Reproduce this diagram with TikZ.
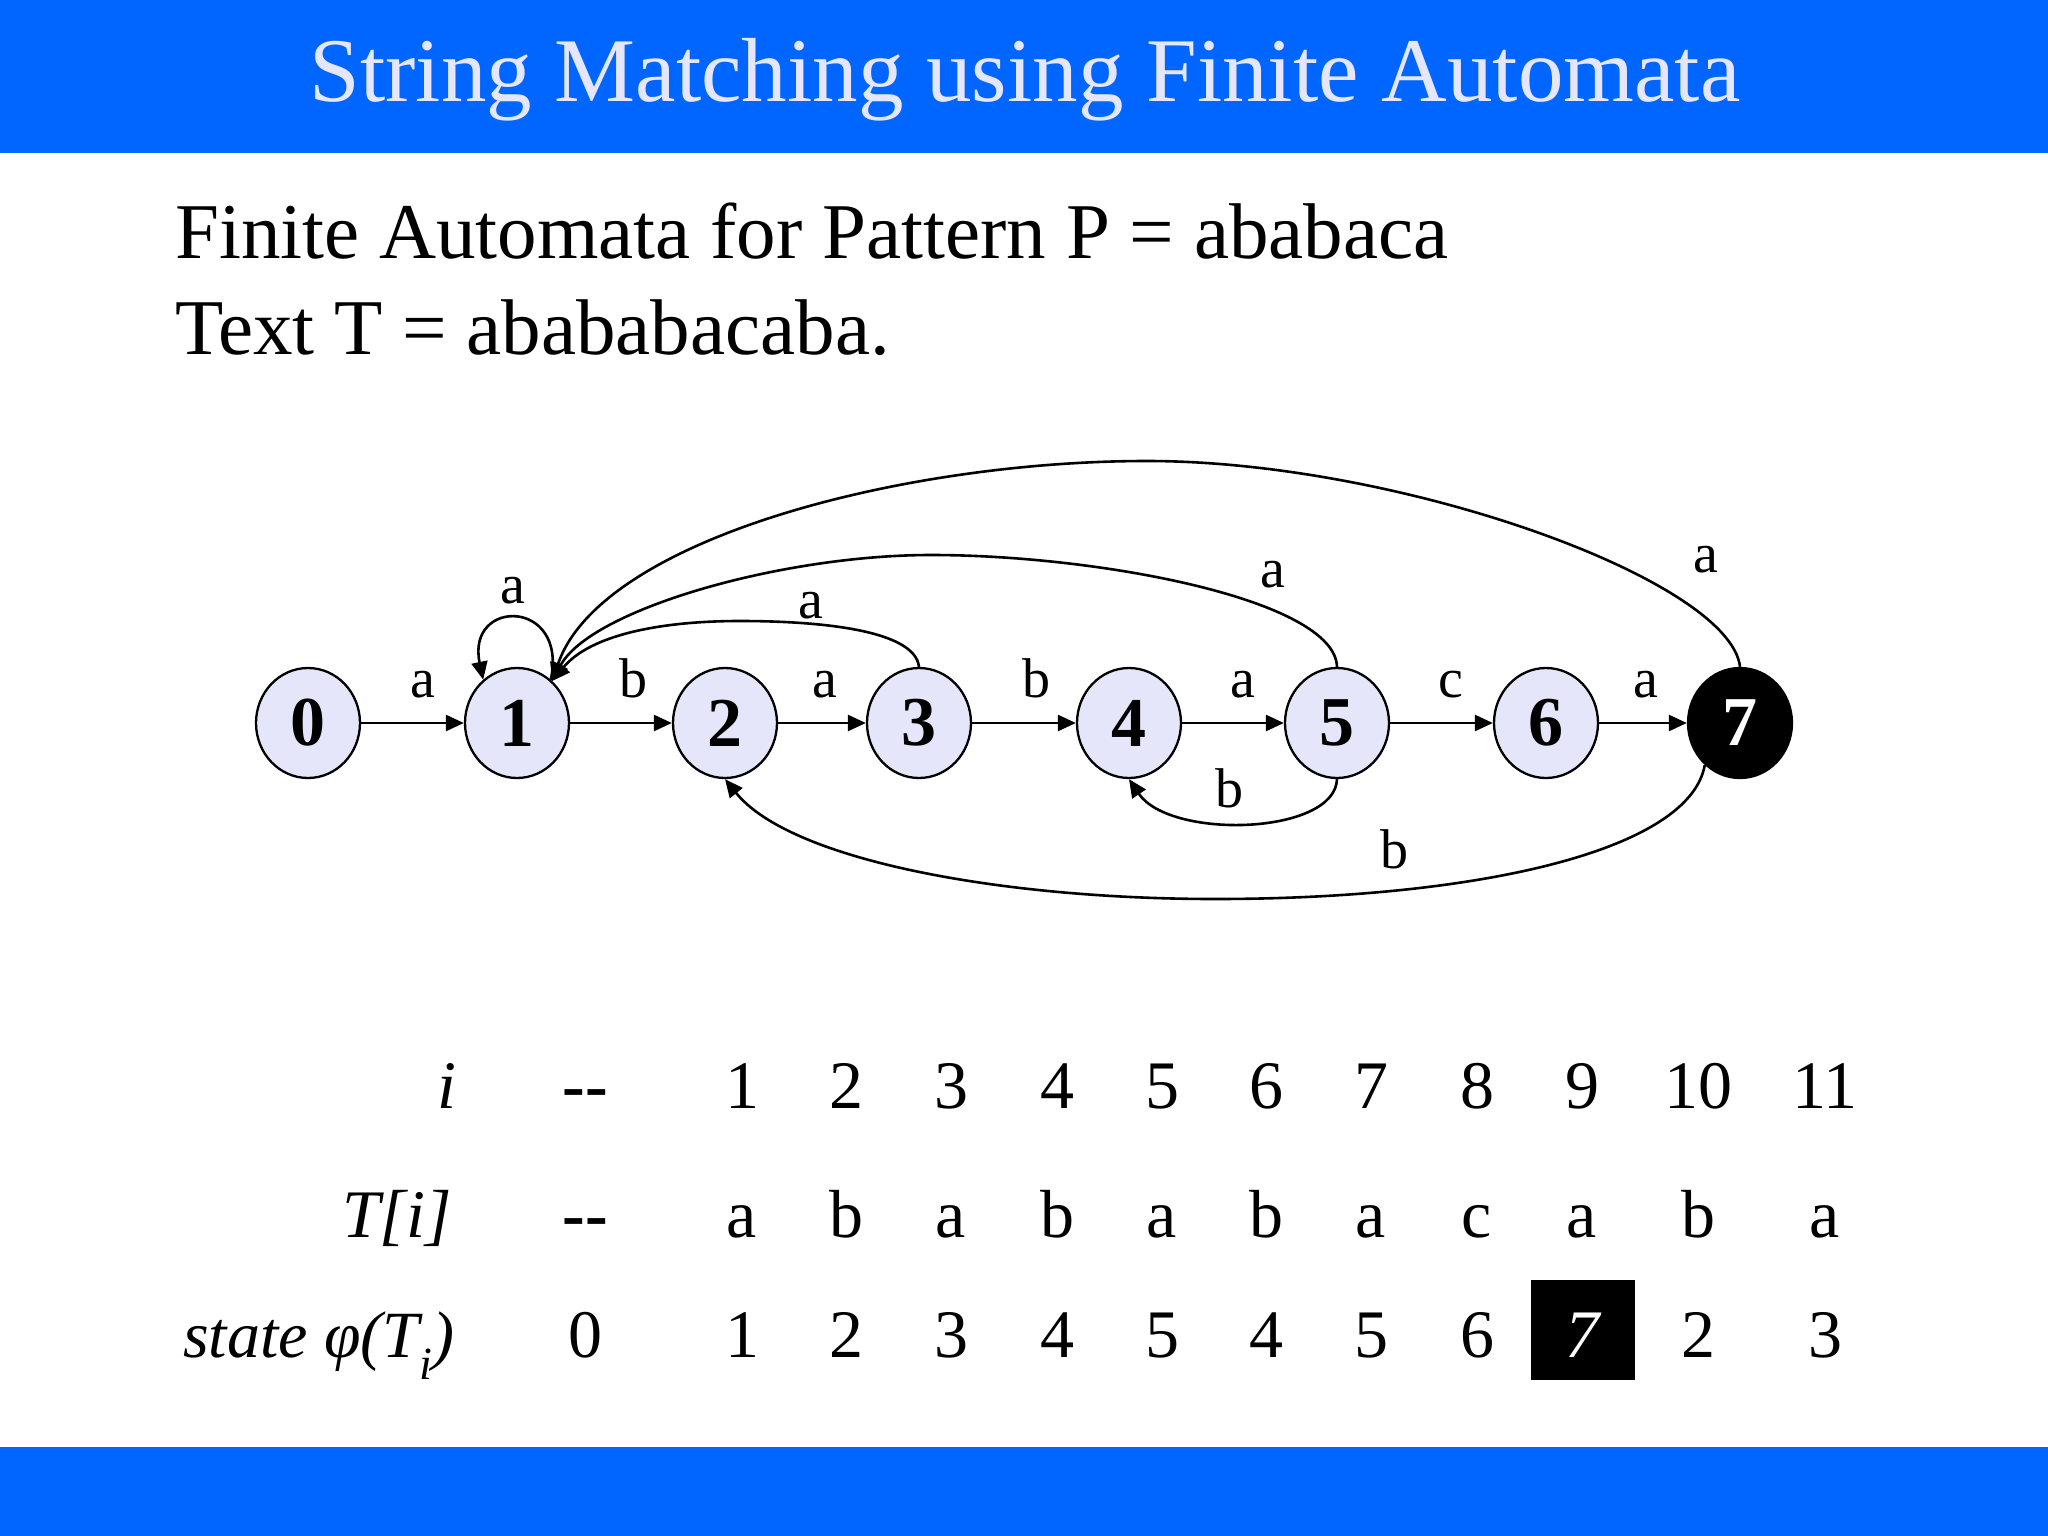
\documentclass[tikz,border=0pt]{standalone}
\usepackage{fontspec}
\setmainfont{Liberation Serif}
\usetikzlibrary{shapes.geometric,arrows.meta}
\definecolor{barblue}{HTML}{0066FF}
\definecolor{lav}{RGB}{230,230,250}
\begin{document}
\begin{tikzpicture}[x=1pt,y=-1pt,
  state/.style={ellipse,draw=black,line width=2.3pt,fill=lav,minimum width=104pt,minimum height=110pt,inner sep=0pt,font=\fontsize{70}{70}\selectfont\bfseries},
  arr/.style={line width=2.6pt,-{Triangle[length=18pt,width=16pt]}},
  lbl/.style={font=\fontsize{56}{56}\selectfont,anchor=base,inner sep=0pt},
  cell/.style={font=\fontsize{68}{68}\selectfont,anchor=base,inner sep=0pt},
  rowlbl/.style={font=\fontsize{68}{68}\selectfont\itshape,anchor=base east,inner sep=0pt}]
\useasboundingbox (0,0) rectangle (2048,1536);
\fill[white] (0,0) rectangle (2048,1536);
\fill[barblue] (0,0) rectangle (2048,153);
\fill[barblue] (0,1447) rectangle (2048,1536);
\node[anchor=base,text=lav,font=\fontsize{91}{91}\selectfont,inner sep=0pt] (title) at (1025,102) {String Matching using Finite Automata};
\node[anchor=base west,font=\fontsize{79}{79}\selectfont,inner sep=0pt] (sub1) at (175,258) {Finite Automata for Pattern P = ababaca};
\node[anchor=base west,font=\fontsize{79}{79}\selectfont,inner sep=0pt] (sub2) at (175,354) {Text T = abababacaba.};
% states
\node[state] (s0) at (308,723) {0};
\node[state] (s1) at (517,723) {1};
\node[state] (s2) at (725,723) {2};
\node[state] (s3) at (919,723) {3};
\node[state] (s4) at (1129,723) {4};
\node[state] (s5) at (1337,723) {5};
\node[state] (s6) at (1546,723) {6};
\node[state,fill=black,text=white] (s7) at (1740,723) {7};
% straight edges
\draw[arr] (s0) -- (s1);
\draw[arr] (s1) -- (s2);
\draw[arr] (s2) -- (s3);
\draw[arr] (s3) -- (s4);
\draw[arr] (s4) -- (s5);
\draw[arr] (s5) -- (s6);
\draw[arr] (s6) -- (s7);
\node[lbl] (l01) at (423,697) {a};
\node[lbl] (l12) at (633,697) {b};
\node[lbl] (l23) at (825,697) {a};
\node[lbl] (l34) at (1036,697) {b};
\node[lbl] (l45) at (1243,697) {a};
\node[lbl] (l56) at (1451,697) {c};
\node[lbl] (l67) at (1646,697) {a};
% curved edges
\coordinate (p31) at (740,621);
\coordinate (p51) at (931,555);
\coordinate (p71) at (1147,461);
\coordinate (p72) at (1215,899);
\draw[arr] (s1.52) .. controls (568,598) and (466,598) .. (s1.128);
\draw[arr] (s3.north) .. controls (915,630) and (820,621) .. (p31) .. controls (660,621) and (590,635) .. (s1.50);
\draw[arr] (s5.north) .. controls (1335,600) and (1100,555) .. (p51) .. controls (780,555) and (590,610) .. (s1.50);
\draw[arr] (s7.north) .. controls (1730,580) and (1400,461) .. (p71) .. controls (900,461) and (600,540) .. (s1.50);
\draw[arr] (s5.south) .. controls (1335,835) and (1170,840) .. (s4.south);
\draw[arr] (s7.-130) .. controls (1690,850) and (1480,899) .. (p72) .. controls (1000,899) and (790,860) .. (s2.south);
\node[lbl] (l11) at (513,603) {a};
\node[lbl] (l31) at (811,618) {a};
\node[lbl] (l51) at (1273,587) {a};
\node[lbl] (l71) at (1706,572) {a};
\node[lbl] (l54) at (1229,807) {b};
\node[lbl] (l72) at (1394,868) {b};
% table
\node[rowlbl] (ri) at (457,1108) {i};
\node[rowlbl] (rt) at (452,1237) {T[i]};
\node[rowlbl,font=\fontsize{66}{66}\selectfont\itshape] (rs) at (455,1357) {state φ(T\textsubscript{i})};
\node[cell,font=\fontsize{68}{68}\selectfont\bfseries] (i0) at (585,1108) {-{}-};
\node[cell,font=\fontsize{68}{68}\selectfont\bfseries] (t0) at (585,1237) {-{}-};
\node[cell] (q0) at (585,1357) {0};
\foreach \n/\x/\t/\s in {1/742/a/1,2/846/b/2,3/951/a/3,4/1057/b/4,5/1162/a/5,6/1266/b/4,7/1371/a/5,8/1477/c/6,10/1698/b/2,11/1825/a/3}{
  \node[cell] (i\n) at (\x,1108) {\n};
  \node[cell] (t\n) at (\x,1237) {\t};
  \node[cell] (q\n) at (\x,1357) {\s};
}
\node[cell] (i9) at (1582,1108) {9};
\node[cell] (t9) at (1582,1237) {a};
\node[fill=black,minimum width=104pt,minimum height=100pt,inner sep=0pt] (box9) at (1583,1330) {};
\node[cell,text=white,font=\fontsize{68}{68}\selectfont\itshape] (q9) at (1582,1357) {7};
\end{tikzpicture}
\end{document}
